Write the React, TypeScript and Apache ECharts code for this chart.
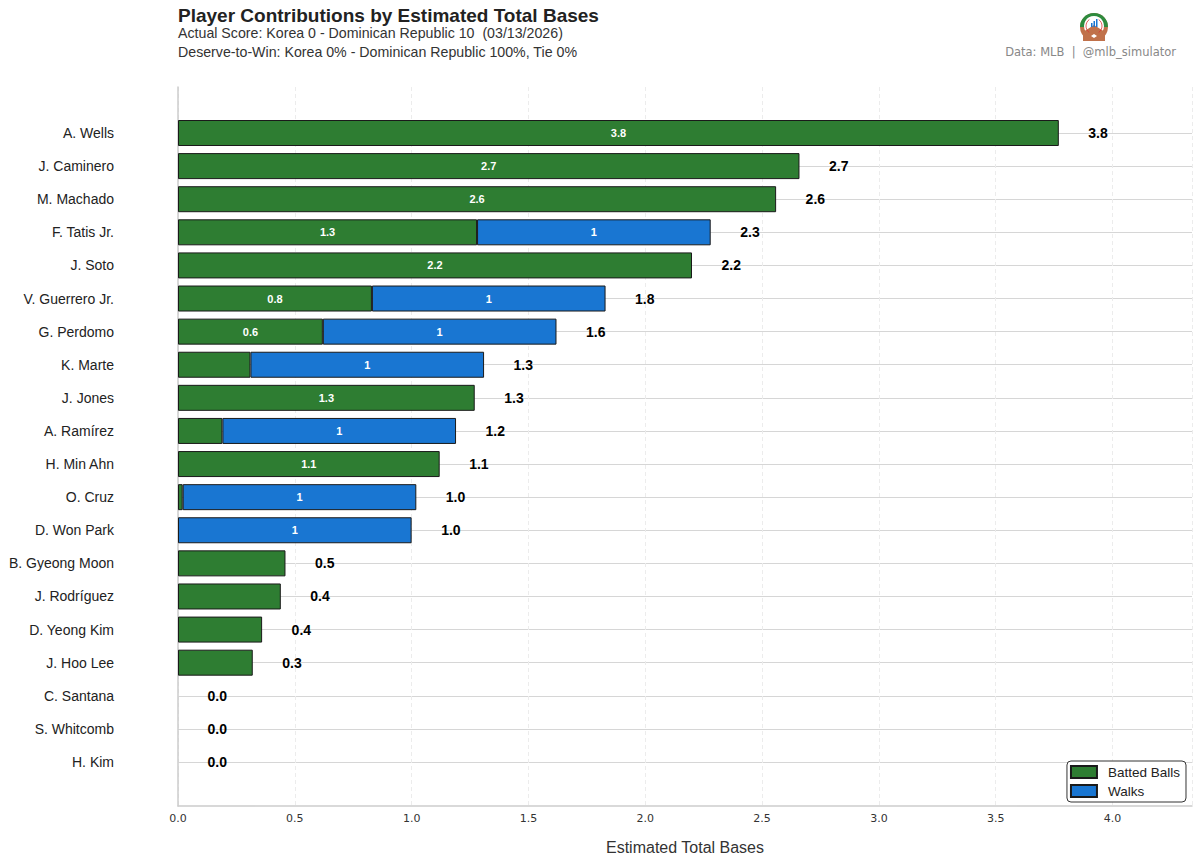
import React, { useEffect, useRef } from "react";
import * as echarts from "echarts";

const players = [
  "A. Wells", "J. Caminero", "M. Machado", "F. Tatis Jr.", "J. Soto",
  "V. Guerrero Jr.", "G. Perdomo", "K. Marte", "J. Jones", "A. Ramírez",
  "H. Min Ahn", "O. Cruz", "D. Won Park", "B. Gyeong Moon", "J. Rodríguez",
  "D. Yeong Kim", "J. Hoo Lee", "C. Santana", "S. Whitcomb", "H. Kim",
];
const battedBalls = [
  3.77, 2.66, 2.56, 1.28, 2.2, 0.83, 0.62, 0.31, 1.27, 0.19,
  1.12, 0.02, 0, 0.46, 0.44, 0.36, 0.32, 0, 0, 0,
];
const walks = [0, 0, 0, 1, 0, 1, 1, 1, 0, 1, 0, 1, 1, 0, 0, 0, 0, 0, 0, 0];
const xTicks = [0, 0.5, 1, 1.5, 2, 2.5, 3, 3.5, 4];
const xMax = 4.34;

const GREEN = "#2e7d32";
const BLUE = "#1976d2";
const SANS = "Liberation Sans, Arial, sans-serif";
const DEJAVU = "DejaVu Sans, sans-serif";

export default function App() {
  const ref = useRef<HTMLDivElement>(null);
  useEffect(() => {
    if (!ref.current) return;
    const chart = echarts.init(ref.current, undefined, { renderer: "svg" });
    const totals = battedBalls.map((b, i) => b + walks[i]);
    const toItems = (arr: number[]) =>
      arr.map((v) => (v === 0 ? { value: 0, itemStyle: { borderWidth: 0, opacity: 0 } } : v));
    const insideLabel = (fmt: (v: number) => string) => ({
      show: true,
      position: "inside",
      color: "#fff",
      fontWeight: "bold",
      fontSize: 11,
      fontFamily: SANS,
      formatter: (p: any) => (p.value >= 0.5 ? fmt(p.value) : ""),
    });
    chart.setOption({
      animation: false,
      backgroundColor: "#fff",
      grid: [
        { left: 178, right: 8, top: 87, bottom: 50, containLabel: false },
        { left: 178, right: 8, top: 133, bottom: 98, containLabel: false },
      ],
      xAxis: [
        {
          gridIndex: 0,
          type: "value",
          min: 0,
          max: xMax,
          interval: 0.5,
          name: "Estimated Total Bases",
          nameLocation: "middle",
          nameGap: 33,
          nameTextStyle: { fontSize: 16, fontFamily: SANS, color: "#333" },
          axisLine: { show: true, lineStyle: { color: "#cccccc", width: 1.5 } },
          axisTick: { show: false },
          axisLabel: {
            fontSize: 11,
            fontFamily: DEJAVU,
            color: "#333",
            margin: 7,
            showMaxLabel: false,
            formatter: (v: number) => (xTicks.includes(v) ? v.toFixed(1) : ""),
          },
          splitLine: {
            show: true,
            lineStyle: { color: "#ececec", type: [4, 3], width: 1 },
          },
        },
        {
          gridIndex: 1,
          type: "value",
          min: 0,
          max: xMax,
          show: false,
        },
      ],
      yAxis: [
        {
          gridIndex: 0,
          type: "value",
          min: 0,
          max: 1,
          axisLine: { show: true, lineStyle: { color: "#cccccc", width: 1.5 } },
          axisTick: { show: false },
          axisLabel: { show: false },
          splitLine: { show: false },
        },
        {
          gridIndex: 1,
          type: "category",
          data: players,
          inverse: true,
          boundaryGap: false,
          axisLine: { show: false },
          axisTick: { show: false },
          axisLabel: {
            fontSize: 14,
            fontFamily: SANS,
            color: "#222",
            margin: 64,
            padding: [0, 0, 3, 0],
          },
          splitLine: { show: true, lineStyle: { color: "#d6d6d6", width: 1 } },
        },
      ],
      legend: {
        orient: "vertical",
        right: 14,
        bottom: 58,
        itemWidth: 26,
        itemHeight: 12,
        itemGap: 5,
        padding: [4, 6, 4, 3],
        borderColor: "#333",
        borderWidth: 1,
        borderRadius: 4,
        backgroundColor: "#fff",
        icon: "rect",
        textStyle: { fontSize: 13.5, fontFamily: SANS, color: "#222", padding: [0, 0, 0, 6] },
        data: ["Batted Balls", "Walks"],
      },
      series: [
        {
          name: "Batted Balls",
          type: "bar",
          xAxisIndex: 1,
          yAxisIndex: 1,
          stack: "tb",
          barWidth: 26,
          clip: false,
          data: toItems(battedBalls),
          itemStyle: { color: GREEN, borderColor: "#1a1a1a", borderWidth: 1 },
          label: insideLabel((v) => v.toFixed(1)),
        },
        {
          name: "Walks",
          type: "bar",
          xAxisIndex: 1,
          yAxisIndex: 1,
          stack: "tb",
          barWidth: 26,
          clip: false,
          data: toItems(walks),
          itemStyle: { color: BLUE, borderColor: "#1a1a1a", borderWidth: 1 },
          label: insideLabel((v) => String(v)),
        },
        {
          name: "Total",
          type: "scatter",
          xAxisIndex: 1,
          yAxisIndex: 1,
          symbolSize: 1,
          clip: false,
          itemStyle: { color: "rgba(0,0,0,0)" },
          data: totals,
          label: {
            show: true,
            position: "right",
            distance: 29,
            fontSize: 14,
            fontWeight: "bold",
            fontFamily: SANS,
            color: "#000",
            opacity: 1,
            formatter: (p: any) => p.value.toFixed(1),
          },
        },
      ],
      graphic: [
        {
          type: "text",
          left: 178,
          top: 6,
          style: {
            text: "Player Contributions by Estimated Total Bases",
            fontSize: 19,
            fontWeight: "bold",
            fontFamily: SANS,
            fill: "#222",
          },
        },
        {
          type: "text",
          left: 178,
          top: 26,
          style: {
            text: "Actual Score: Korea 0 - Dominican Republic 10  (03/13/2026)",
            fontSize: 14.2,
            fontFamily: SANS,
            fill: "#333",
          },
        },
        {
          type: "text",
          left: 178,
          top: 45,
          style: {
            text: "Deserve-to-Win: Korea 0% - Dominican Republic 100%, Tie 0%",
            fontSize: 14.2,
            fontFamily: SANS,
            fill: "#333",
          },
        },
        {
          type: "text",
          right: 24,
          top: 46,
          style: {
            text: "Data: MLB  |  @mlb_simulator",
            fontSize: 11.5,
            fontFamily: DEJAVU,
            fill: "#888",
          },
        },
        {
          type: "group",
          x: 1094,
          y: 27,
          children: [
            { type: "circle", shape: { cx: 0, cy: 0, r: 14 }, style: { fill: "#c0714a" } },
            {
              type: "sector",
              shape: { cx: 0, cy: 0, r: 14, r0: 0, startAngle: Math.PI, endAngle: 2 * Math.PI },
              style: { fill: "#2e8b3e" },
            },
            { type: "circle", shape: { cx: 0, cy: -1, r: 10 }, style: { fill: "#fff" } },
            {
              type: "polygon",
              shape: { points: [[-11, 5], [0, -2], [11, 5], [11, 14], [-11, 14]] },
              style: { fill: "#c0714a" },
            },
            {
              type: "polygon",
              shape: { points: [[-3, 9], [0, 7], [3, 9], [0, 11]] },
              style: { fill: "#fff" },
            },
            { type: "rect", shape: { x: -3, y: -4, width: 1.5, height: 4 }, style: { fill: "#1976d2" } },
            { type: "rect", shape: { x: -0.5, y: -6, width: 1.5, height: 6 }, style: { fill: "#1976d2" } },
            { type: "rect", shape: { x: 2, y: -8, width: 1.5, height: 8 }, style: { fill: "#1976d2" } },
            {
              type: "arc",
              shape: { cx: 0, cy: -1, r: 8, startAngle: 2.2, endAngle: 4.1 },
              style: { stroke: "#d33", lineWidth: 0.8, fill: "none" },
            },
            {
              type: "arc",
              shape: { cx: 0, cy: -1, r: 8, startAngle: -0.95, endAngle: 0.95 },
              style: { stroke: "#d33", lineWidth: 0.8, fill: "none" },
            },
          ],
        },
      ],
    });
    return () => chart.dispose();
  }, []);
  return <div ref={ref} style={{ width: 1200, height: 860, position: "absolute", left: 0, top: 0 }} />;
}
